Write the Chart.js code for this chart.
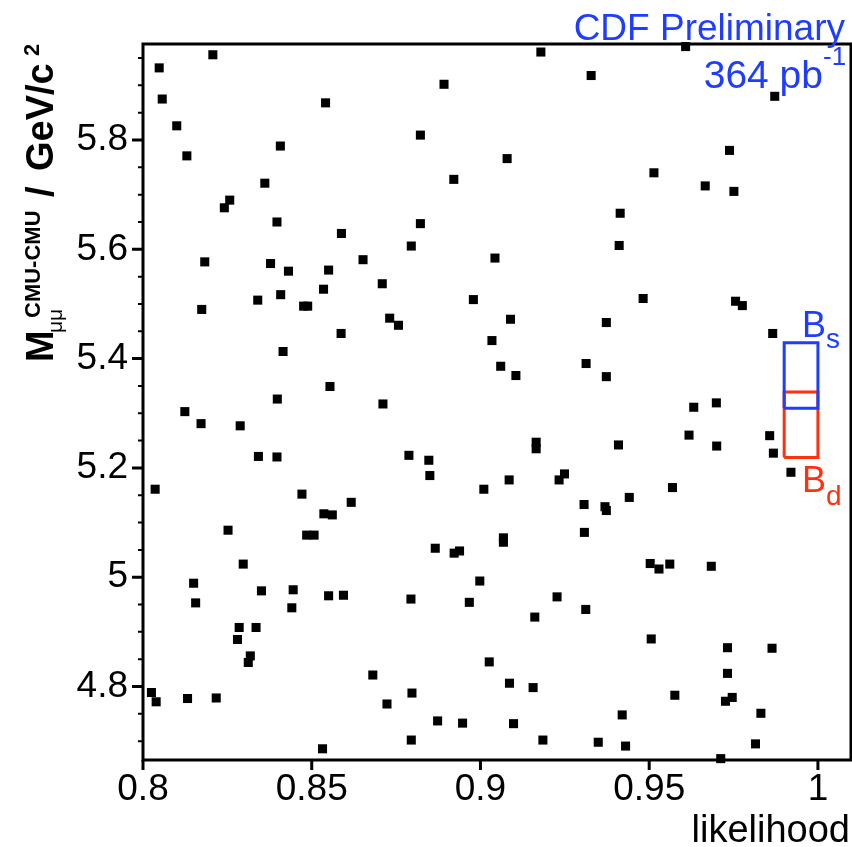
<!DOCTYPE html>
<html lang="en">

<head>
  <meta charset="UTF-8">
  <title>CDF Preliminary - mass vs likelihood</title>
  <script src="https://cdn.jsdelivr.net/npm/chart.js@4.4.1/dist/chart.umd.min.js"></script>
  <style>
    body { margin: 0; background: #fff; }
    canvas { display: block; }
  </style>
</head>

<body>
  <canvas id="mass-chart" width="852" height="847"></canvas>

  <script>
    // events: likelihood and dimuon mass (GeV/c^2)
    const likelihood = [
      0.8207, 0.8048, 0.8057, 0.8541, 0.8100, 0.8407, 0.8130, 0.8361, 0.8257, 0.8241,
      0.8397, 0.8588, 0.8183, 0.8378, 0.8431, 0.8550, 0.8652, 0.8709, 0.9179, 0.9328,
      0.8892, 0.8822, 0.9079, 0.8921, 0.8822, 0.8795, 0.9043, 0.9608, 0.9872, 0.9738,
      0.9514, 0.9666, 0.9751, 0.9414, 0.9411, 0.8535, 0.8408, 0.8340, 0.8174, 0.8476,
      0.8488, 0.8587, 0.8415, 0.8554, 0.8398, 0.8124, 0.8172, 0.8288, 0.8342, 0.8397,
      0.8711, 0.8036, 0.8471, 0.8617, 0.8536, 0.8561, 0.8979, 0.8731, 0.8757, 0.9089,
      0.9373, 0.9034, 0.9060, 0.9105, 0.9313, 0.9373, 0.9165, 0.9165, 0.8788, 0.8847,
      0.8850, 0.9085, 0.9010, 0.9249, 0.9233, 0.9307, 0.9369, 0.9373, 0.9482, 0.9756,
      0.9776, 0.9866, 0.9632, 0.9699, 0.9618, 0.9700, 0.9857, 0.9868, 0.9920, 0.9409,
      0.9569, 0.9441, 0.8252, 0.8485, 0.8507, 0.8297, 0.8150, 0.8156, 0.8351, 0.8445,
      0.8441, 0.8550, 0.8594, 0.8285, 0.8335, 0.8280, 0.8318, 0.8312, 0.8681, 0.8025,
      0.8039, 0.8132, 0.8217, 0.8532, 0.8866, 0.8922, 0.8938, 0.9068, 0.9068, 0.9308,
      0.8998, 0.8794, 0.8967, 0.9227, 0.9161, 0.9312, 0.9026, 0.9086, 0.9156, 0.8797,
      0.8723, 0.8873, 0.8947, 0.9098, 0.8795, 0.9185, 0.9349, 0.9503, 0.9529, 0.9561,
      0.9684, 0.9506, 0.9732, 0.9864, 0.9732, 0.9576, 0.9726, 0.9746, 0.9420, 0.9831,
      0.9430, 0.9815, 0.9712
    ];
    const mass = [
      5.956, 5.932, 5.875, 5.868, 5.826, 5.789, 5.771, 5.721, 5.690, 5.676,
      5.650, 5.629, 5.577, 5.574, 5.560, 5.562, 5.581, 5.537, 5.961, 5.918,
      5.902, 5.809, 5.766, 5.728, 5.647, 5.606, 5.584, 5.971, 5.880, 5.781,
      5.740, 5.716, 5.706, 5.666, 5.607, 5.527, 5.517, 5.507, 5.490, 5.496,
      5.496, 5.446, 5.413, 5.349, 5.326, 5.303, 5.281, 5.277, 5.221, 5.220,
      5.317, 5.161, 5.152, 5.137, 5.116, 5.114, 5.508, 5.474, 5.461, 5.472,
      5.466, 5.433, 5.386, 5.369, 5.391, 5.367, 5.247, 5.235, 5.223, 5.214,
      5.186, 5.178, 5.161, 5.189, 5.178, 5.133, 5.129, 5.122, 5.510, 5.505,
      5.497, 5.446, 5.311, 5.319, 5.260, 5.240, 5.259, 5.227, 5.192, 5.242,
      5.164, 5.146, 5.086, 5.077, 5.077, 5.024, 4.989, 4.953, 4.975, 4.977,
      4.944, 4.966, 4.967, 4.908, 4.908, 4.886, 4.856, 4.844, 4.821, 4.789,
      4.772, 4.778, 4.779, 4.686, 5.053, 5.044, 5.048, 5.072, 5.064, 5.082,
      4.993, 4.960, 4.954, 4.964, 4.927, 4.941, 4.845, 4.806, 4.798, 4.788,
      4.768, 4.737, 4.733, 4.732, 4.702, 4.702, 4.698, 5.025, 5.015, 5.024,
      5.020, 4.887, 4.871, 4.870, 4.824, 4.784, 4.773, 4.780, 4.748, 4.751,
      4.691, 4.695, 4.668
    ];

    // signal windows drawn at the right edge
    const windowLikelihood = [0.99, 1.0];
    const bsWindow = [5.309, 5.429];
    const bdWindow = [5.219, 5.339];

    const xTicks = [0.8, 0.85, 0.9, 0.95, 1.0];
    const xTickLabels = ['0.8', '0.85', '0.9', '0.95', '1'];
    const yTicks = [4.8, 5.0, 5.2, 5.4, 5.6, 5.8];
    const yTickLabels = ['4.8', '5', '5.2', '5.4', '5.6', '5.8'];
    const yMinorStep = 0.05;

    const FONT = '"Liberation Sans", Arial, Helvetica, sans-serif';
    const BLUE = '#1f3dff';
    const RED = '#ff3010';

    function windowBox(massRange) {
      const [x0, x1] = windowLikelihood;
      const [y0, y1] = massRange;
      return [{ x: x0, y: y0 }, { x: x1, y: y0 }, { x: x1, y: y1 }, { x: x0, y: y1 }, { x: x0, y: y0 }];
    }

    function drawText(ctx, text, x, y, font, color, align) {
      ctx.font = font;
      ctx.fillStyle = color;
      ctx.textAlign = align || 'left';
      ctx.fillText(text, x, y);
    }

    // ROOT-style frame, outward ticks and the latex-like labels
    const rootDecor = {
      id: 'rootDecor',
      beforeDatasetsDraw(chart) {
        const { ctx, chartArea: a, scales: { x, y } } = chart;
        ctx.save();
        ctx.strokeStyle = '#000';
        ctx.lineWidth = 3;
        ctx.strokeRect(a.left, a.top, a.right - a.left, a.bottom - a.top);

        ctx.beginPath();
        xTicks.forEach(v => {
          const px = x.getPixelForValue(v);
          ctx.moveTo(px, a.bottom);
          ctx.lineTo(px, a.bottom + 10);
        });
        yTicks.forEach(v => {
          const py = y.getPixelForValue(v);
          ctx.moveTo(a.left, py);
          ctx.lineTo(a.left - 11, py);
        });
        ctx.stroke();

        ctx.lineWidth = 2;
        ctx.beginPath();
        for (let k = Math.ceil(y.min / yMinorStep); k * yMinorStep <= y.max; k++) {
          if (k % 4 === 0) continue;
          const py = y.getPixelForValue(k * yMinorStep);
          ctx.moveTo(a.left, py);
          ctx.lineTo(a.left - 5, py);
        }
        ctx.stroke();
        ctx.restore();
      },
      afterDraw(chart) {
        const ctx = chart.ctx;
        ctx.save();
        ctx.textBaseline = 'alphabetic';

        drawText(ctx, 'CDF Preliminary', 845, 40, '37px ' + FONT, BLUE, 'right');
        drawText(ctx, '364 pb', 823, 88, '39px ' + FONT, BLUE, 'right');
        drawText(ctx, '-1', 823, 65, '26px ' + FONT, BLUE);

        drawText(ctx, 'B', 802, 337, '36px ' + FONT, BLUE);
        drawText(ctx, 's', 826, 348, '28px ' + FONT, BLUE);
        drawText(ctx, 'B', 802, 492, '36px ' + FONT, RED);
        drawText(ctx, 'd', 826, 505, '28px ' + FONT, RED);

        drawText(ctx, 'likelihood', 850, 842, '38px ' + FONT, '#000', 'right');

        // y title, rotated
        ctx.translate(53, 362);
        ctx.rotate(-Math.PI / 2);
        drawText(ctx, 'M', 0, 0, 'bold 38px ' + FONT, '#000');
        drawText(ctx, 'μμ', 29, 9, '21px ' + FONT, '#000');
        drawText(ctx, 'CMU-CMU', 44, -13, 'bold 22px ' + FONT, '#000');
        drawText(ctx, '/', 165, 0, 'bold 38px ' + FONT, '#000');
        drawText(ctx, 'GeV/c', 191, 0, 'bold 38px ' + FONT, '#000');
        drawText(ctx, '2', 306, -14, 'bold 22px ' + FONT, '#000');
        ctx.restore();
      }
    };

    const ctx = document.getElementById('mass-chart').getContext('2d');
    new Chart(ctx, {
      type: 'scatter',
      data: {
        datasets: [
          {
            label: 'Bs',
            data: windowBox(bsWindow),
            showLine: true,
            borderColor: BLUE,
            borderWidth: 3,
            pointRadius: 0,
            clip: false
          },
          {
            label: 'Bd',
            data: windowBox(bdWindow),
            showLine: true,
            borderColor: RED,
            borderWidth: 3,
            pointRadius: 0,
            clip: false
          },
          {
            label: 'events',
            data: likelihood.map((l, i) => ({ x: l, y: mass[i] })),
            pointStyle: 'rect',
            pointRadius: 6.4,
            backgroundColor: '#000',
            borderWidth: 0,
            clip: false
          }
        ]
      },
      options: {
        responsive: false,
        animation: false,
        layout: { autoPadding: false, padding: { top: 44, right: 1, left: 0, bottom: 0 } },
        plugins: {
          legend: { display: false },
          tooltip: { enabled: false }
        },
        scales: {
          x: {
            type: 'linear',
            min: 0.8,
            max: 1.0098,
            afterBuildTicks: scale => { scale.ticks = xTicks.map(v => ({ value: v })); },
            afterFit: scale => {
              scale.height = 87;
              scale.paddingLeft = 0;
              scale.paddingRight = 0;
            },
            grid: { display: false, drawTicks: false },
            border: { display: false },
            ticks: {
              autoSkip: false,
              maxRotation: 0,
              padding: 8,
              color: '#000',
              font: { family: FONT, size: 37 },
              callback: (v, i) => xTickLabels[i]
            }
          },
          y: {
            type: 'linear',
            min: 4.6655,
            max: 5.9757,
            afterBuildTicks: scale => { scale.ticks = yTicks.map(v => ({ value: v })); },
            afterFit: scale => {
              scale.width = 143;
              scale.paddingTop = 0;
              scale.paddingBottom = 0;
            },
            grid: { display: false, drawTicks: false },
            border: { display: false },
            ticks: {
              autoSkip: false,
              padding: 15,
              color: '#000',
              font: { family: FONT, size: 37 },
              callback: (v, i) => yTickLabels[i]
            }
          }
        }
      },
      plugins: [rootDecor]
    });
  </script>
</body>
</html>
